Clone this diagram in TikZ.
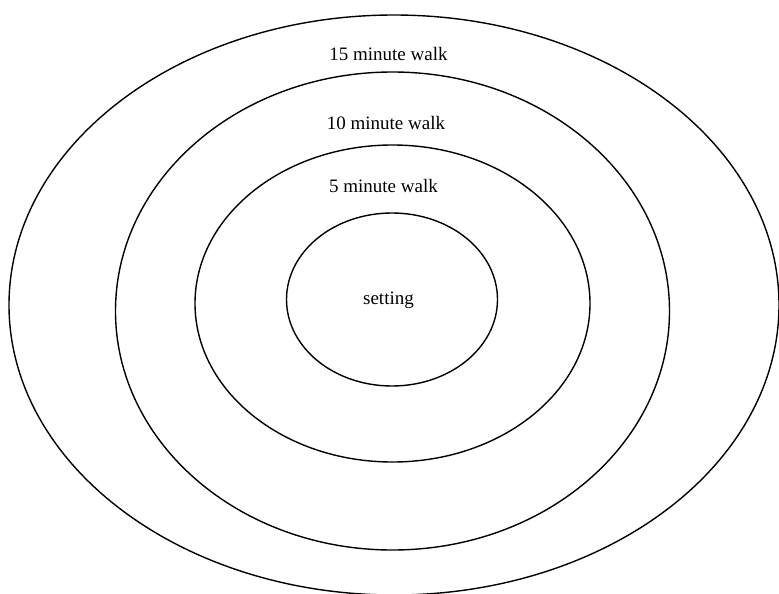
\documentclass[tikz,border=0pt]{standalone}
\usepackage{fontspec}
\setmainfont{Liberation Serif}
\usepackage{tikz}

\begin{document}
\begin{tikzpicture}[x=1pt,y=-1pt]
\useasboundingbox (0,0) rectangle (779,594);
\clip (0,0) rectangle (779,594);
\tikzset{ring/.style={draw,line width=1.4pt},
  walklabel/.style={anchor=base,inner sep=0pt,font=\fontsize{19}{22}\selectfont}}

% Walking distance rings
\draw[ring] (394,305) ellipse (385 and 290);
\draw[ring] (392.5,311) ellipse (277 and 239);
\draw[ring] (392.5,303.5) ellipse (197.5 and 158.5);
\draw[ring] (392,299.5) ellipse (105.5 and 86.5);

% Labels
\node[walklabel] (fifteen) at (388.5,60) {15 minute walk};
\node[walklabel] (ten) at (386,129) {10 minute walk};
\node[walklabel] (five) at (383.5,192) {5 minute walk};
\node[walklabel] (setting) at (388.5,304) {setting};
\end{tikzpicture}
\end{document}
